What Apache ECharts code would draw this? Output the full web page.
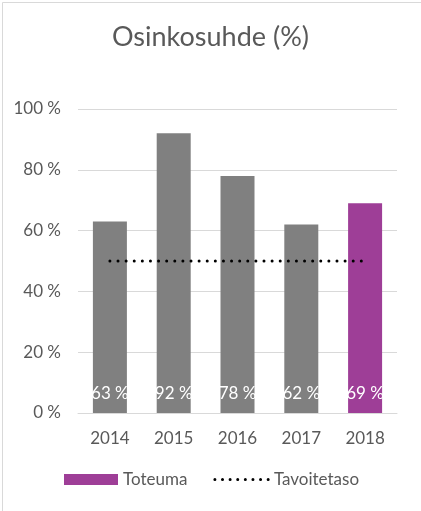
<!DOCTYPE html>
<html>
<head>
<meta charset="utf-8">
<script src="https://cdn.jsdelivr.net/npm/echarts@6/dist/echarts.min.js"></script>
<style>
html,body{margin:0;padding:0;background:#fff;}
#c{width:421px;height:511px;}
</style>
</head>
<body>
<div id="c"></div>
<script>
const years = ['2014', '2015', '2016', '2017', '2018'];
const payoutRatio = [63, 92, 78, 62, 69];
const targetLevel = [50, 50, 50, 50, 50];
const yTicks = { min: 0, max: 100, interval: 20 };

const FONT = 'Lato';
const TXT = '#595959';
const GRAY = '#808080';
const PURPLE = '#9E3E97';

const chart = echarts.init(document.getElementById('c'), null, { renderer: 'canvas' });
chart.setOption({
  animation: false,
  backgroundColor: '#fff',
  textStyle: { fontFamily: FONT },
  graphic: [{
    type: 'rect', left: 0, top: 0, silent: true,
    shape: { x: 0.5, y: 0.5, width: 420, height: 510 },
    style: { fill: 'none', stroke: '#d9d9d9', lineWidth: 1 }
  }],
  title: {
    text: 'Osinkosuhde (%)',
    left: 'center',
    top: 19,
    textStyle: { fontFamily: FONT, fontSize: 27, fontWeight: 'normal', color: TXT }
  },
  grid: { left: 78, right: 24, top: 109, bottom: 98 },
  legend: {
    left: 64,
    top: 471,
    padding: 0,
    itemWidth: 54,
    itemHeight: 11,
    itemGap: 26,
    textStyle: { fontFamily: FONT, fontSize: 17, color: TXT },
    data: [
      { name: 'Toteuma', icon: 'rect' },
      { name: 'Tavoitetaso', itemStyle: { color: 'rgba(0,0,0,0)', borderWidth: 0 },
        lineStyle: { color: '#000', width: 3, type: [0.01, 7.6], cap: 'round' } }
    ]
  },
  xAxis: {
    type: 'category',
    data: years,
    axisLine: { lineStyle: { color: '#d9d9d9', width: 1 } },
    axisTick: { show: false },
    axisLabel: { color: TXT, fontSize: 17, fontFamily: FONT, margin: 17 }
  },
  yAxis: {
    type: 'value',
    min: yTicks.min,
    max: yTicks.max,
    interval: yTicks.interval,
    axisLine: { show: false },
    axisTick: { show: false },
    splitLine: { lineStyle: { color: '#d9d9d9', width: 1 } },
    axisLabel: { color: TXT, fontSize: 17, fontFamily: FONT, margin: 17, formatter: '{value} %' }
  },
  series: [
    {
      name: 'Toteuma',
      type: 'bar',
      barWidth: 34,
      itemStyle: { color: PURPLE },
      data: payoutRatio.map((v, i) => i < payoutRatio.length - 1 ? { value: v, itemStyle: { color: GRAY } } : { value: v }),
      label: {
        show: true,
        position: 'insideBottom',
        distance: 11,
        color: '#fff',
        fontSize: 17,
        fontFamily: FONT,
        formatter: '{c} %'
      },
      z: 2
    },
    {
      name: 'Tavoitetaso',
      type: 'line',
      data: targetLevel,
      symbol: 'none',
      showSymbol: false,
      itemStyle: { color: '#000' },
      lineStyle: { color: '#000', width: 3, type: [0.01, 8.1], cap: 'round' },
      z: 3
    }
  ]
});
</script>
</body>
</html>
